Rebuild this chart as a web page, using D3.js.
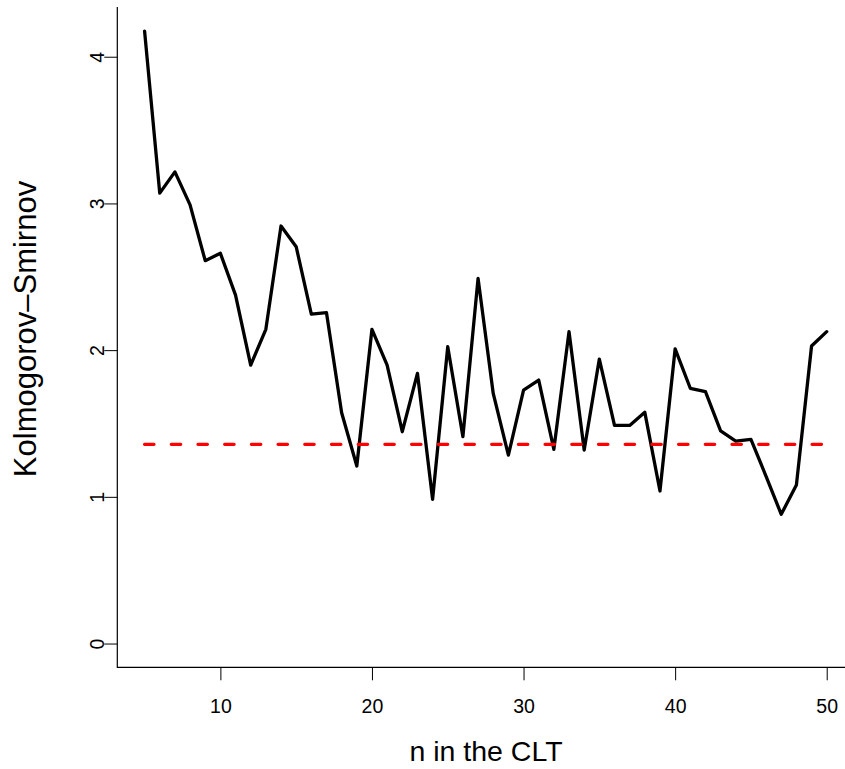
<!DOCTYPE html>
<html>
<head>
<meta charset="utf-8">
<script src="https://cdn.jsdelivr.net/npm/d3@7"></script>
<style>
  body { margin: 0; background: #fff; }
  svg { display: block; font-family: "Liberation Sans", Arial, sans-serif; }
</style>
</head>
<body>
<svg width="845" height="769"></svg>
<script>
// sample size n in the CLT and the KS statistic for each
let n = [5, 6, 7, 8, 9, 10, 11, 12, 13, 14, 15, 16, 17, 18, 19, 20, 21, 22, 23, 24, 25, 26, 27,
         28, 29, 30, 31, 32, 33, 34, 35, 36, 37, 38, 39, 40, 41, 42, 43, 44, 45, 46, 47, 48, 49, 50];
let ks = [4.175, 3.07, 3.215, 2.99, 2.61, 2.66, 2.375, 1.898, 2.142, 2.846, 2.705, 2.246, 2.255,
          1.573, 1.21, 2.142, 1.898, 1.444, 1.842, 0.983, 2.023, 1.41, 2.489, 1.705, 1.285, 1.728,
          1.796, 1.324, 2.126, 1.319, 1.939, 1.487, 1.487, 1.576, 1.04, 2.008, 1.74, 1.717, 1.449,
          1.38, 1.392, 1.14, 0.881, 1.08, 2.028, 2.126];
let critical = 1.358;

let xTicks = [10, 20, 30, 40, 50];
let yTicks = [0, 1, 2, 3, 4];

let svg = d3.select('svg');

let plotLeft = 117.3, plotRight = 854, plotTop = 7, plotBottom = 667.3;

let x = d3.scaleLinear().domain([3.2, 51.8]).range([plotLeft, plotRight]);
let y = d3.scaleLinear().domain([-0.162, 4.339]).range([plotBottom, plotTop]);

// x axis
let gx = svg.append('g').attr('transform', 'translate(0,' + plotBottom + ')')
    .call(d3.axisBottom(x).tickValues(xTicks).tickFormat(d3.format('d')).tickSize(13).tickSizeOuter(0));
gx.attr('font-size', 19.5).attr('font-family', '"Liberation Sans", Arial, sans-serif');
gx.select('.domain').remove();
gx.selectAll('line').attr('stroke', '#000').attr('stroke-width', 1);
gx.selectAll('text').attr('y', 46).attr('dy', null).attr('fill', '#000');

// y axis
let gy = svg.append('g').attr('transform', 'translate(' + plotLeft + ',0)')
    .call(d3.axisLeft(y).tickValues(yTicks).tickFormat(d3.format('d')).tickSize(13).tickSizeOuter(0));
gy.attr('font-size', 19.5).attr('font-family', '"Liberation Sans", Arial, sans-serif');
gy.select('.domain').remove();
gy.selectAll('line').attr('stroke', '#000').attr('stroke-width', 1);
gy.selectAll('text').attr('x', null).attr('dy', null).attr('text-anchor', 'middle')
    .attr('transform', 'translate(-13,0) rotate(-90)').attr('fill', '#000');

// L-shaped box
svg.append('path')
    .attr('d', 'M' + plotLeft + ',' + plotTop + 'V' + plotBottom + 'H' + plotRight)
    .attr('fill', 'none').attr('stroke', '#000').attr('stroke-width', 1.2);

// axis titles
svg.append('text').attr('x', 486).attr('y', 761).attr('text-anchor', 'middle')
    .attr('font-size', 28.5).text('n in the CLT');
svg.append('text').attr('transform', 'translate(36,' + 329 + ') rotate(-90)')
    .attr('text-anchor', 'middle').attr('font-size', 31).text('Kolmogorov–Smirnov');

// KS statistic line
let line = d3.line().x((d, i) => x(n[i])).y((d) => y(d));
svg.append('path').datum(ks).attr('d', line)
    .attr('fill', 'none').attr('stroke', '#000').attr('stroke-width', 3.3)
    .attr('stroke-linejoin', 'round').attr('stroke-linecap', 'round');

// critical value
svg.append('line')
    .attr('x1', x(n[0])).attr('x2', x(n[n.length - 1]))
    .attr('y1', y(critical)).attr('y2', y(critical))
    .attr('stroke', '#ff0000').attr('stroke-width', 3.3)
    .attr('stroke-dasharray', '9.4,17.3').attr('stroke-linecap', 'round');
</script>
</body>
</html>
